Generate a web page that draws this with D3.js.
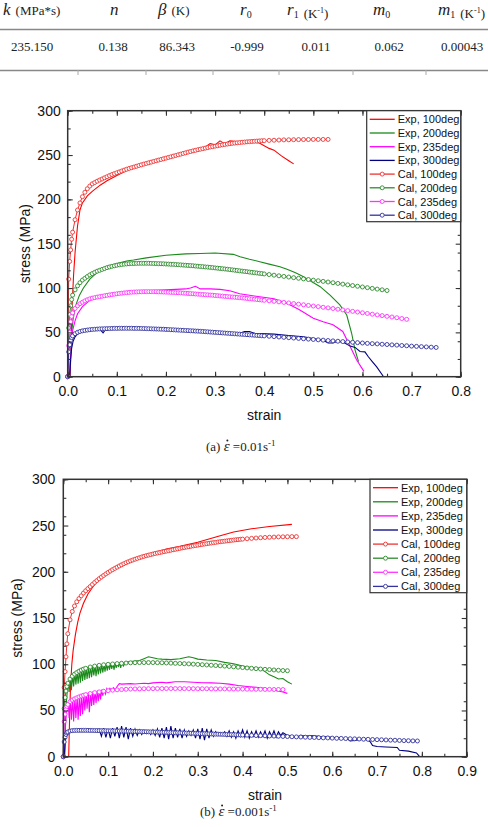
<!DOCTYPE html>
<html>
<head>
<meta charset="utf-8">
<script src="https://cdn.jsdelivr.net/npm/d3@7"></script>
<style>
  body { margin: 0; background: #fff; }
  svg { display: block; }
</style>
</head>
<body>
<svg id="fig" width="488" height="827"></svg>
<script>
// ---- parameter table ----
const tableSymbols = ["k", "n", "β", "r", "r", "m", "m"];
const tableSubs = ["", "", "", "0", "1", "0", "1"];
const tableUnits = ["MPa*s", "", "K", "", "K-1", "", "K-1"];
const tableValues = ["235.150", "0.138", "86.343", "-0.999", "0.011", "0.062", "0.00043"];

// ---- legend ----
const seriesNames = ["Exp, 100deg", "Exp, 200deg", "Exp, 235deg", "Exp, 300deg",
  "Cal, 100deg", "Cal, 200deg", "Cal, 235deg", "Cal, 300deg"];
const expColors = ["#ff0000", "#1a8a1a", "#ff00ff", "#000080"];
const calColors = ["#ee3333", "#2e8b2e", "#ff33ff", "#3333a0"];

// strain grids of the calculated curves
const strainGrid = [0, 0.002, 0.004, 0.006, 0.008, 0.01, 0.015, 0.02, 0.025, 0.03, 0.035, 0.04, 0.045, 0.05,
  0.06, 0.07, 0.08, 0.09, 0.10, 0.11, 0.12, 0.13, 0.14, 0.15, 0.16, 0.17, 0.18, 0.19, 0.20,
  0.21, 0.22, 0.23, 0.24, 0.25, 0.26, 0.27, 0.28, 0.29, 0.30, 0.31, 0.32, 0.33, 0.34, 0.35,
  0.36, 0.37, 0.38, 0.39, 0.40, 0.41, 0.42, 0.43, 0.44, 0.45, 0.46, 0.47, 0.48, 0.49, 0.50,
  0.51, 0.52, 0.53, 0.54, 0.55, 0.56, 0.57, 0.58, 0.59, 0.60, 0.61, 0.62, 0.63, 0.64, 0.65,
  0.66, 0.67, 0.68, 0.69, 0.70, 0.71, 0.72, 0.73, 0.74, 0.75, 0.76, 0.77, 0.78, 0.79];
const strainFine = [0, 0.002, 0.004, 0.006, 0.008, 0.01,
  0.015, 0.02, 0.025, 0.03, 0.035, 0.04, 0.045, 0.05, 0.055, 0.06, 0.065, 0.07, 0.075, 0.08,
  0.085, 0.09, 0.095, 0.10,
  0.105, 0.11, 0.115, 0.12, 0.125, 0.13, 0.135, 0.14, 0.145, 0.15, 0.155, 0.16, 0.165, 0.17,
  0.175, 0.18, 0.185, 0.19, 0.195, 0.20,
  0.205, 0.21, 0.215, 0.22, 0.225, 0.23, 0.235, 0.24, 0.245, 0.25, 0.255, 0.26, 0.265, 0.27,
  0.275, 0.28, 0.285, 0.29, 0.295, 0.30,
  0.305, 0.31, 0.315, 0.32, 0.325, 0.33, 0.335, 0.34, 0.345, 0.35, 0.355, 0.36, 0.365, 0.37,
  0.375, 0.38, 0.385, 0.39, 0.395, 0.40,
  0.41, 0.42, 0.43, 0.44, 0.45, 0.46, 0.47, 0.48, 0.49, 0.50,
  0.51, 0.52, 0.53, 0.54, 0.55, 0.56, 0.57, 0.58, 0.59, 0.60,
  0.61, 0.62, 0.63, 0.64, 0.65, 0.66, 0.67, 0.68, 0.69, 0.70,
  0.71, 0.72, 0.73, 0.74, 0.75, 0.76, 0.77, 0.78, 0.79];

// ---- (a) strain rate 0.01 /s, calculated (on strainFine) ----
const calA100 = [0, 110, 130, 143, 155, 163,
  177, 188, 196, 203, 208, 212, 215, 217.5, 219, 220.5, 221.8, 223, 224.3, 225.5, 226.8, 228, 229, 230,
  231, 232, 233, 234, 234.9, 235.7, 236.5, 237.3, 238.2, 239, 239.8, 240.5, 241.3, 242, 242.8, 243.5, 244.3, 245, 245.8, 246.5,
  247.3, 248, 248.8, 249.5, 250.3, 251, 251.8, 252.5, 253.3, 254, 254.7, 255.3, 256, 256.6, 257.2, 257.8, 258.4, 259, 259.5, 260,
  260.5, 261, 261.5, 262, 262.4, 262.8, 263.2, 263.5, 263.8, 264.1, 264.4, 264.6, 264.9, 265.1, 265.3, 265.5, 265.7, 265.9, 266.1, 266.2,
  266.5, 266.7, 266.9, 267.1, 267.2, 267.3, 267.4, 267.5, 267.5, 267.6,
  267.6, 267.6, 267.6];
const calA200 = [0, 55, 70, 80, 87, 92,
  98, 102.5, 106, 109, 111, 113, 114.8, 116.3, 117.7, 119, 120, 121, 122, 123, 123.8, 124.5, 125.1, 125.7,
  126.2, 126.6, 126.9, 127.2, 127.4, 127.6, 127.7, 127.8, 127.9, 127.9, 127.9, 127.9, 127.9, 127.8, 127.7, 127.6, 127.5, 127.4, 127.3, 127.1,
  127, 126.8, 126.7, 126.5, 126.3, 126.1, 125.9, 125.7, 125.5, 125.3, 125.1, 124.8, 124.6, 124.3, 124.1, 123.8, 123.6, 123.3, 123, 122.7,
  122.4, 122.1, 121.8, 121.5, 121.2, 120.8, 120.5, 120.1, 119.8, 119.4, 119.1, 118.7, 118.4, 118, 117.7, 117.3, 117, 116.6, 116.3, 115.9,
  115.2, 114.5, 113.8, 113.1, 112.4, 111.7, 111, 110.3, 109.6, 108.9,
  108.2, 107.5, 106.8, 106, 105.2, 104.4, 103.6, 102.8, 102, 101.2,
  100.4, 99.6, 98.8, 98, 97.2];
const calA235 = [0, 35, 50, 62, 68, 72,
  77, 80, 82.3, 84, 85.5, 86.8, 87.8, 88.6, 89.2, 89.8, 90.3, 90.8, 91.3, 91.8, 92.3, 92.7, 93.1, 93.5,
  93.9, 94.2, 94.5, 94.8, 95.1, 95.3, 95.5, 95.6, 95.7, 95.8, 95.9, 95.9, 95.9, 95.9, 95.9, 95.8, 95.7, 95.6, 95.5, 95.4,
  95.3, 95.1, 95, 94.8, 94.7, 94.5, 94.3, 94.1, 93.9, 93.7, 93.5, 93.3, 93.1, 92.9, 92.7, 92.5, 92.3, 92.1, 91.9, 91.6,
  91.4, 91.1, 90.9, 90.6, 90.4, 90.1, 89.9, 89.6, 89.4, 89.1, 88.9, 88.6, 88.3, 88, 87.7, 87.4, 87.1, 86.8, 86.5, 86.2,
  85.6, 85, 84.4, 83.8, 83.2, 82.5, 81.8, 81.1, 80.4, 79.7,
  79, 78.3, 77.6, 76.9, 76.1, 75.3, 74.5, 73.7, 72.9, 72.1,
  71.3, 70.5, 69.7, 68.9, 68.1, 67.3, 66.5, 65.6, 64.7];
const calA300 = [0, 28, 36, 41, 44, 46,
  48.5, 50, 51, 51.7, 52.2, 52.6, 53, 53.3, 53.5, 53.7, 53.9, 54, 54.1, 54.2, 54.3, 54.4, 54.5, 54.5,
  54.6, 54.6, 54.6, 54.6, 54.6, 54.6, 54.5, 54.5, 54.5, 54.4, 54.3, 54.2, 54.1, 54, 53.9, 53.8, 53.7, 53.6, 53.5, 53.3,
  53.2, 53, 52.9, 52.7, 52.6, 52.4, 52.3, 52.1, 52, 51.8, 51.7, 51.5, 51.4, 51.2, 51, 50.8, 50.6, 50.4, 50.2, 50,
  49.8, 49.6, 49.4, 49.2, 49, 48.8, 48.6, 48.4, 48.2, 48, 47.8, 47.6, 47.4, 47.2, 47, 46.8, 46.6, 46.4, 46.2, 46,
  45.6, 45.2, 44.8, 44.4, 44, 43.6, 43.2, 42.8, 42.4, 42,
  41.6, 41.2, 40.8, 40.4, 40, 39.6, 39.2, 38.8, 38.4, 38,
  37.6, 37.3, 37, 36.6, 36.3, 35.9, 35.6, 35.2, 34.9, 34.5,
  34.2, 33.9, 33.6, 33.3, 33];

// ---- (a) experimental (strain, stress) ----
const expA100 = [[0.005, 0], [0.007, 40], [0.009, 80], [0.012, 115], [0.015, 140], [0.02, 170],
  [0.025, 188], [0.03, 196], [0.04, 204], [0.05, 209], [0.066, 216], [0.08, 221], [0.1, 227],
  [0.12, 232.5], [0.147, 239], [0.17, 242], [0.2, 246], [0.23, 250.5], [0.26, 255], [0.28, 259],
  [0.29, 263], [0.3, 261.5], [0.31, 266], [0.32, 262.5], [0.33, 266], [0.35, 265], [0.37, 265.5],
  [0.39, 263.5], [0.41, 257.5], [0.42, 255.5], [0.435, 249], [0.45, 243.5], [0.46, 240]];
const expA200 = [[0.004, 0], [0.006, 30], [0.008, 50], [0.011, 65], [0.014, 74], [0.018, 83],
  [0.024, 92], [0.032, 100], [0.045, 110], [0.059, 117], [0.079, 124], [0.1, 127.5], [0.12, 130.5],
  [0.134, 131.6], [0.16, 134], [0.2, 137], [0.24, 138.5], [0.27, 139], [0.3, 139.5], [0.337, 138],
  [0.351, 135.3], [0.37, 132.5], [0.391, 129.7], [0.41, 127], [0.432, 124], [0.445, 121.5],
  [0.459, 118.4], [0.466, 116.6], [0.48, 112.8], [0.497, 107], [0.514, 101.5], [0.534, 92],
  [0.554, 81], [0.568, 69.6], [0.578, 49], [0.585, 30], [0.592, 17]];
const expA235 = [[0.004, 0], [0.007, 35], [0.01, 52], [0.015, 63], [0.02, 71], [0.03, 79],
  [0.045, 86], [0.06, 90], [0.08, 93], [0.1, 94.5], [0.12, 95.5], [0.14, 96.5], [0.16, 97],
  [0.18, 97.5], [0.2, 98], [0.22, 98.5], [0.24, 99], [0.25, 100], [0.26, 102], [0.27, 99],
  [0.29, 99], [0.31, 98.5], [0.33, 97], [0.35, 93.5], [0.38, 91], [0.42, 88], [0.445, 83],
  [0.47, 76], [0.5, 66], [0.52, 62], [0.54, 58.5], [0.56, 51], [0.575, 34], [0.588, 19], [0.603, 6]];
const expA300 = [[0.004, 0], [0.006, 20], [0.008, 32], [0.011, 40], [0.015, 45], [0.02, 48],
  [0.03, 51], [0.04, 52.5], [0.05, 53.2], [0.06, 53.5], [0.068, 52], [0.072, 49.5], [0.076, 52.5],
  [0.09, 54], [0.1, 54.5], [0.11, 53], [0.12, 55], [0.15, 55], [0.18, 54.5], [0.2, 54.5],
  [0.22, 53], [0.25, 52.5], [0.28, 51.5], [0.3, 50.5], [0.33, 49.5], [0.35, 49], [0.36, 51],
  [0.37, 51], [0.38, 49], [0.42, 48], [0.45, 46.5], [0.48, 45], [0.5, 43], [0.52, 41],
  [0.53, 38], [0.54, 38], [0.55, 40], [0.56, 39], [0.575, 34.5], [0.585, 33], [0.595, 28.5],
  [0.605, 28], [0.612, 22.5], [0.62, 17], [0.629, 11], [0.643, 0]];

// ---- (b) strain rate 0.001 /s, calculated ----
// calB100, calB300 on strainFine; calB200, calB235 on strainGrid
const calB100 = [0, 75, 92, 108, 122, 133,
  148, 157, 163, 167.5, 171, 174, 177, 179.5, 181.8, 184, 186.3, 188.5, 190.5, 192.5, 194.3, 196, 197.7, 199.3,
  200.8, 202.3, 203.7, 205, 206.3, 207.5, 208.7, 209.8, 210.8, 211.8, 212.7, 213.6, 214.4, 215.2, 216, 216.7, 217.4, 218, 218.6, 219.2,
  219.8, 220.3, 220.8, 221.3, 221.8, 222.3, 222.8, 223.3, 223.8, 224.3, 224.8, 225.3, 225.8, 226.2, 226.7, 227.1, 227.6, 228, 228.4, 228.8,
  229.2, 229.6, 230, 230.4, 230.8, 231.1, 231.5, 231.8, 232.2, 232.5, 232.8, 233.1, 233.4, 233.7, 234, 234.3, 234.6, 234.8, 235.1, 235.3,
  235.7, 236.1, 236.5, 236.8, 237.1, 237.3, 237.5, 237.7, 237.8, 237.9,
  238, 238];
const calB200 = [0, 52, 64, 71, 76, 79.5, 84, 87, 89.3, 91, 92.5, 93.7, 94.7, 95.6,
  97, 98, 98.8, 99.4, 99.9, 100.3, 100.7, 101, 101.3, 101.5, 101.7, 101.8, 101.8, 101.8,
  101.8, 101.7, 101.6, 101.4, 101.2, 101, 100.8, 100.6, 100.4, 100.1, 99.8, 99.5, 99.2,
  98.9, 98.6, 98.3, 98, 97.6, 97.2, 96.8, 96.4, 96, 95.6, 95.2, 94.8, 94.5, 94.2, 93.8,
  93.5, 93.2, 93];
const calB235 = [0, 38, 46, 51, 54.5, 56.5, 59.5, 61.3, 62.6, 63.7, 64.7, 65.6, 66.4, 67.1,
  68.3, 69.3, 70.1, 70.8, 71.4, 71.9, 72.3, 72.6, 72.9, 73.1, 73.3, 73.4, 73.5, 73.6, 73.6,
  73.7, 73.7, 73.7, 73.7, 73.7, 73.7, 73.6, 73.6, 73.6, 73.5, 73.5, 73.5, 73.4, 73.4, 73.3,
  73.3, 73.2, 73.2, 73.1, 73.1, 73, 73, 72.9, 72.9, 72.8, 72.8, 72.7, 72.7, 72.6];
const calB300 = [0, 16, 21, 24, 25.8, 26.8,
  27.8, 28.2, 28.4, 28.5, 28.5, 28.5, 28.5, 28.5, 28.5, 28.4, 28.4, 28.3, 28.3, 28.2, 28.2, 28.1, 28.1, 28,
  28, 27.9, 27.9, 27.8, 27.8, 27.7, 27.7, 27.6, 27.6, 27.5, 27.4, 27.3, 27.3, 27.2, 27.1, 27, 27, 26.9, 26.8, 26.7,
  26.7, 26.6, 26.5, 26.4, 26.4, 26.3, 26.2, 26.1, 26, 25.9, 25.9, 25.8, 25.7, 25.6, 25.5, 25.4, 25.4, 25.3, 25.2, 25.1,
  25, 24.9, 24.9, 24.8, 24.7, 24.6, 24.5, 24.4, 24.4, 24.3, 24.2, 24.1, 24, 23.9, 23.9, 23.8, 23.7, 23.6, 23.5, 23.4,
  23.3, 23.1, 22.9, 22.8, 22.6, 22.4, 22.3, 22.1, 21.9, 21.8,
  21.6, 21.4, 21.3, 21.1, 20.9, 20.8, 20.6, 20.4, 20.3, 20.1,
  19.9, 19.8, 19.6, 19.4, 19.3, 19.1, 18.9, 18.8, 18.6, 18.4,
  18.3, 18.1, 17.9, 17.8, 17.6, 17.4, 17.3, 17.1, 17];

// ---- (b) experimental (strain, stress) ----
const expB100 = [[0.012, 0], [0.014, 40], [0.016, 75], [0.019, 100], [0.022, 115], [0.027, 132],
  [0.032, 145], [0.037, 155], [0.045, 166], [0.055, 176], [0.065, 183], [0.08, 192], [0.1, 200],
  [0.12, 206], [0.15, 212.5], [0.18, 217.5], [0.2, 220.5], [0.23, 224.5], [0.26, 227.5],
  [0.3, 232], [0.35, 239], [0.38, 243], [0.42, 246.5], [0.46, 249], [0.51, 251.3]];
const expB200 = [[0.003, 0], [0.005, 40], [0.007, 60], [0.009, 72],
  [0.011, 81], [0.013, 70], [0.016, 86], [0.018, 72], [0.021, 89], [0.023, 76], [0.026, 91],
  [0.028, 78], [0.031, 92], [0.033, 79], [0.036, 93.5], [0.038, 80], [0.041, 94.5], [0.043, 82],
  [0.046, 95.5], [0.048, 83], [0.051, 96], [0.053, 84], [0.056, 97], [0.058, 85], [0.061, 97.5],
  [0.063, 86], [0.066, 98], [0.068, 88], [0.071, 98.5], [0.073, 87], [0.076, 99], [0.078, 89],
  [0.081, 99.5], [0.083, 90], [0.086, 100], [0.088, 91], [0.091, 100], [0.093, 92], [0.096, 100.5],
  [0.098, 93], [0.101, 101], [0.103, 94], [0.106, 101], [0.108, 95], [0.111, 101], [0.113, 94],
  [0.116, 101.5], [0.118, 96], [0.121, 101.5], [0.123, 97], [0.126, 102], [0.128, 96],
  [0.131, 102], [0.134, 98], [0.14, 102.5], [0.15, 103], [0.16, 103.5], [0.17, 104], [0.18, 106],
  [0.19, 108], [0.2, 107], [0.21, 106], [0.22, 105.5], [0.24, 105], [0.26, 106], [0.27, 107],
  [0.28, 108], [0.29, 107], [0.3, 105.5], [0.32, 104.5], [0.34, 104], [0.36, 102], [0.38, 100.5],
  [0.4, 98], [0.42, 96.5], [0.44, 95.5], [0.45, 92], [0.46, 88.5], [0.47, 86.5], [0.48, 84],
  [0.49, 84.5], [0.5, 81], [0.51, 78.5]];
const expB235 = [[0.003, 0], [0.005, 35], [0.007, 50], [0.009, 56],
  [0.011, 59], [0.013, 42], [0.016, 61], [0.018, 40], [0.021, 63], [0.023, 38], [0.026, 64],
  [0.028, 42], [0.031, 65], [0.033, 40], [0.036, 66], [0.038, 44], [0.041, 67], [0.043, 46],
  [0.046, 68], [0.048, 50], [0.051, 69], [0.053, 52], [0.056, 69.5], [0.058, 48], [0.061, 70],
  [0.063, 55], [0.066, 70.5], [0.068, 56], [0.071, 71], [0.073, 58], [0.076, 71.5], [0.078, 60],
  [0.081, 72], [0.083, 62], [0.086, 72.5], [0.088, 66], [0.091, 73], [0.094, 68], [0.097, 73.5],
  [0.1, 70], [0.104, 74], [0.108, 71], [0.112, 74.5], [0.116, 72], [0.12, 76], [0.125, 79],
  [0.13, 78.5], [0.14, 78.8], [0.15, 79], [0.16, 78.7], [0.18, 79.5], [0.19, 79], [0.2, 79.8],
  [0.22, 80.5], [0.23, 79.8], [0.25, 81], [0.27, 81], [0.29, 80.5], [0.31, 80], [0.33, 79.8],
  [0.35, 79.5], [0.37, 78.5], [0.39, 77], [0.41, 76], [0.43, 75], [0.45, 74], [0.47, 72],
  [0.49, 70], [0.5, 68.5]];
const expB300 = [[0.002, 0], [0.004, 15], [0.006, 24], [0.008, 27], [0.012, 28.5], [0.02, 29],
  [0.04, 29.5], [0.06, 29], [0.075, 28.5],
  [0.08, 30], [0.085, 22], [0.09, 31], [0.095, 21], [0.1, 30], [0.105, 20], [0.11, 31], [0.115, 22],
  [0.12, 32], [0.125, 20], [0.13, 33], [0.135, 21], [0.14, 32], [0.145, 19], [0.15, 31], [0.155, 22],
  [0.16, 30], [0.165, 23], [0.17, 29], [0.175, 24], [0.18, 28.5], [0.185, 25], [0.19, 28], [0.195, 24],
  [0.2, 29], [0.205, 23], [0.21, 30], [0.215, 21], [0.22, 31], [0.225, 20], [0.23, 32], [0.235, 19],
  [0.24, 33], [0.245, 20], [0.25, 31], [0.255, 21], [0.26, 30], [0.265, 20], [0.27, 29], [0.275, 22],
  [0.28, 28], [0.285, 23], [0.29, 29], [0.295, 20], [0.3, 30], [0.305, 19], [0.31, 31], [0.315, 18],
  [0.32, 30], [0.325, 20], [0.33, 29], [0.335, 22], [0.34, 27], [0.345, 23], [0.35, 26], [0.355, 24],
  [0.36, 27], [0.365, 22], [0.37, 28], [0.375, 21], [0.38, 27], [0.385, 20], [0.39, 28], [0.395, 22],
  [0.4, 29], [0.405, 21], [0.41, 28], [0.415, 20], [0.42, 27], [0.425, 22], [0.43, 28], [0.435, 21],
  [0.44, 27], [0.445, 22], [0.45, 28], [0.455, 20], [0.46, 27], [0.465, 22], [0.47, 28], [0.475, 21],
  [0.48, 27], [0.485, 23], [0.49, 26], [0.5, 23],
  [0.51, 22.5], [0.52, 21], [0.53, 23], [0.54, 22], [0.55, 23], [0.57, 22], [0.6, 21], [0.62, 20],
  [0.635, 19], [0.64, 17], [0.65, 17.5], [0.67, 19], [0.68, 18], [0.685, 16], [0.69, 12], [0.7, 11],
  [0.72, 10.5], [0.745, 10], [0.75, 7], [0.77, 6], [0.788, 4], [0.795, 0]];

const svg = d3.select("#fig");
const serif = "'Liberation Serif', 'Times New Roman', serif";
const sans = "'Liberation Sans', Arial, sans-serif";

// ---------- table ----------
const headX = [3, 110, 158, 240, 287, 373, 438];
const valueX = [32, 113, 177, 247, 316, 389, 462];
const table = svg.append("g").attr("font-family", serif).attr("fill", "#222");

tableSymbols.forEach((s, i) => {
	const t = table.append("text").attr("x", headX[i]).attr("y", 15);
	t.append("tspan").attr("font-style", "italic").attr("font-size", 17).text(s);
	if (tableSubs[i]) {
		t.append("tspan").attr("font-size", 10).attr("dy", 3).text(tableSubs[i]);
		t.append("tspan").attr("dy", -3).text("");
	}
	const u = tableUnits[i];
	if (u) {
		const parts = u.split("-");
		t.append("tspan").attr("font-size", 13).attr("dx", 5).text("(" + parts[0]);
		if (parts[1]) {
			t.append("tspan").attr("font-size", 8).attr("dy", -5).text("-" + parts[1]);
			t.append("tspan").attr("font-size", 13).attr("dy", 5).text(")");
		} else {
			t.append("tspan").attr("font-size", 13).text(")");
		}
	}
});

table.selectAll(".val")
.data(tableValues)
.join("text")
.attr("class", "val")
.attr("x", (d, i) => valueX[i])
.attr("y", 51)
.attr("text-anchor", "middle")
.attr("font-size", 13)
.text(d => d);

table.append("line").attr("x1", 0).attr("x2", 488).attr("y1", 29.5).attr("y2", 29.5)
.attr("stroke", "#888").attr("stroke-width", 1.6);
table.append("line").attr("x1", 0).attr("x2", 488).attr("y1", 70.5).attr("y2", 70.5)
.attr("stroke", "#888").attr("stroke-width", 1.6);
[78, 146, 213, 279, 353, 426].forEach(xd => {
	table.append("line").attr("x1", xd).attr("x2", xd).attr("y1", 70).attr("y2", 75)
	.attr("stroke", "#aaa").attr("stroke-width", 1);
});

// ---------- charts ----------
function drawChart(cfg) {
	const g = svg.append("g");
	const x = d3.scaleLinear().domain([0, cfg.xMax]).range([cfg.left, cfg.right]);
	const y = d3.scaleLinear().domain([0, 300]).range([cfg.bottom, cfg.top]);
	const line = d3.line().x(d => x(d[0])).y(d => y(d[1]));

	cfg.exp.forEach((data, i) => {
		g.append("path")
		.datum(data)
		.attr("d", line)
		.attr("fill", "none")
		.attr("stroke", expColors[i])
		.attr("stroke-width", 1.1);
	});

	cfg.cal.forEach(([vals, grid], i) => {
		const pts = vals.map((v, j) => [grid[j], v]);
		g.append("path")
		.datum(pts)
		.attr("d", line)
		.attr("fill", "none")
		.attr("stroke", calColors[i])
		.attr("stroke-width", 1);
		g.append("g")
		.selectAll("circle")
		.data(pts)
		.join("circle")
		.attr("cx", d => x(d[0]))
		.attr("cy", d => y(d[1]))
		.attr("r", 2)
		.attr("fill", "#fff")
		.attr("stroke", calColors[i])
		.attr("stroke-width", 0.9);
	});

	const xMajor = x.ticks(Math.round(cfg.xMax * 10));
	const xMinor = x.ticks(Math.round(cfg.xMax * 20));
	const yMajor = y.ticks(6);
	const yMinor = y.ticks(12);

	const styleAxis = (sel) => {
		sel.select(".domain").remove();
		sel.selectAll("line").attr("stroke", "#333").attr("stroke-width", 1.1);
		sel.attr("font-family", sans).attr("font-size", 14);
		sel.selectAll("text").attr("fill", "#111");
	};

	const axes = [
		[d3.axisBottom(x).tickValues(xMajor).tickSize(-5).tickPadding(9).tickFormat(d3.format(".1f")), 0, cfg.bottom],
		[d3.axisBottom(x).tickValues(xMinor).tickSize(-3).tickFormat(""), 0, cfg.bottom],
		[d3.axisTop(x).tickValues(xMajor).tickSize(-5).tickFormat(""), 0, cfg.top],
		[d3.axisTop(x).tickValues(xMinor).tickSize(-3).tickFormat(""), 0, cfg.top],
		[d3.axisLeft(y).tickValues(yMajor).tickSize(-5).tickPadding(cfg.yPad), cfg.left, 0],
		[d3.axisLeft(y).tickValues(yMinor).tickSize(-3).tickFormat(""), cfg.left, 0],
		[d3.axisRight(y).tickValues(yMajor).tickSize(-5).tickFormat(""), cfg.right, 0],
		[d3.axisRight(y).tickValues(yMinor).tickSize(-3).tickFormat(""), cfg.right, 0]
	];
	axes.forEach(([ax, tx, ty]) => {
		g.append("g").attr("transform", `translate(${tx},${ty})`).call(ax).call(styleAxis);
	});

	g.append("rect")
	.attr("x", cfg.left)
	.attr("y", cfg.top)
	.attr("width", cfg.right - cfg.left)
	.attr("height", cfg.bottom - cfg.top)
	.attr("fill", "none")
	.attr("stroke", "#333")
	.attr("stroke-width", 1.5);

	g.append("text")
	.attr("x", (cfg.left + cfg.right) / 2)
	.attr("y", cfg.xLabelY)
	.attr("text-anchor", "middle")
	.attr("font-family", sans)
	.attr("font-size", 14)
	.attr("fill", "#111")
	.text("strain");

	g.append("text")
	.attr("transform", `translate(${cfg.yLabelX},${(cfg.top + cfg.bottom) / 2}) rotate(-90)`)
	.attr("text-anchor", "middle")
	.attr("font-family", sans)
	.attr("font-size", 14)
	.attr("fill", "#111")
	.text("stress (MPa)");

	// legend
	const lg = cfg.legend;
	const leg = g.append("g");
	leg.append("rect")
	.attr("x", lg.x0)
	.attr("y", cfg.top)
	.attr("width", cfg.right - lg.x0)
	.attr("height", lg.y1 - cfg.top)
	.attr("fill", "#fff")
	.attr("stroke", "#333")
	.attr("stroke-width", 1.2);
	seriesNames.forEach((name, i) => {
		const cy = lg.row0 + i * lg.dy;
		const col = i < 4 ? expColors[i] : calColors[i - 4];
		leg.append("line")
		.attr("x1", lg.x0 + 3).attr("x2", lg.x0 + 28)
		.attr("y1", cy).attr("y2", cy)
		.attr("stroke", col).attr("stroke-width", 1.3);
		if (i >= 4) {
			leg.append("circle")
			.attr("cx", lg.x0 + 15.5).attr("cy", cy).attr("r", 2)
			.attr("fill", "#fff").attr("stroke", col).attr("stroke-width", 0.9);
		}
		leg.append("text")
		.attr("x", lg.x0 + 31)
		.attr("y", cy + 4)
		.attr("font-family", sans)
		.attr("font-size", 11)
		.attr("fill", "#111")
		.text(name);
	});

	// caption: (a) eps-dot =0.01s^-1, the dot over epsilon is a small circle
	const cap = g.append("text")
	.attr("x", cfg.capX)
	.attr("y", cfg.capY)
	.attr("font-family", serif)
	.attr("font-size", 13)
	.attr("fill", "#222");
	cap.append("tspan").text(cfg.capTag + " ");
	const eps = cap.append("tspan").attr("font-style", "italic").attr("font-size", 15).text("ε");
	cap.append("tspan").text(" =" + cfg.capRate + "s");
	cap.append("tspan").attr("font-size", 9).attr("dy", -5).text("-1");

	const box = eps.node().getExtentOfChar(0);
	g.append("circle")
	.attr("cx", box.x + box.width * 0.62)
	.attr("cy", cfg.capY - 10.5)
	.attr("r", 1)
	.attr("fill", "#222");
}

drawChart({
	xMax: 0.8, left: 67.7, right: 460.7, top: 110.7, bottom: 376.7,
	yPad: 7, xLabelY: 420, yLabelX: 30,
	exp: [expA100, expA200, expA235, expA300],
	cal: [[calA100, strainFine], [calA200, strainFine], [calA235, strainFine], [calA300, strainFine]],
	legend: {x0: 366.7, y1: 221.7, row0: 119.3, dy: 13.7},
	capTag: "(a)", capRate: "0.01", capX: 206, capY: 451
});

drawChart({
	xMax: 0.9, left: 63.3, right: 466.7, top: 479.3, bottom: 756.7,
	yPad: 8, xLabelY: 800, yLabelX: 22,
	exp: [expB100, expB200, expB235, expB300],
	cal: [[calB100, strainFine], [calB200, strainGrid], [calB235, strainGrid], [calB300, strainFine]],
	legend: {x0: 370, y1: 592.7, row0: 487.7, dy: 14.1},
	capTag: "(b)", capRate: "0.001", capX: 200, capY: 816
});
</script>
</body>
</html>
